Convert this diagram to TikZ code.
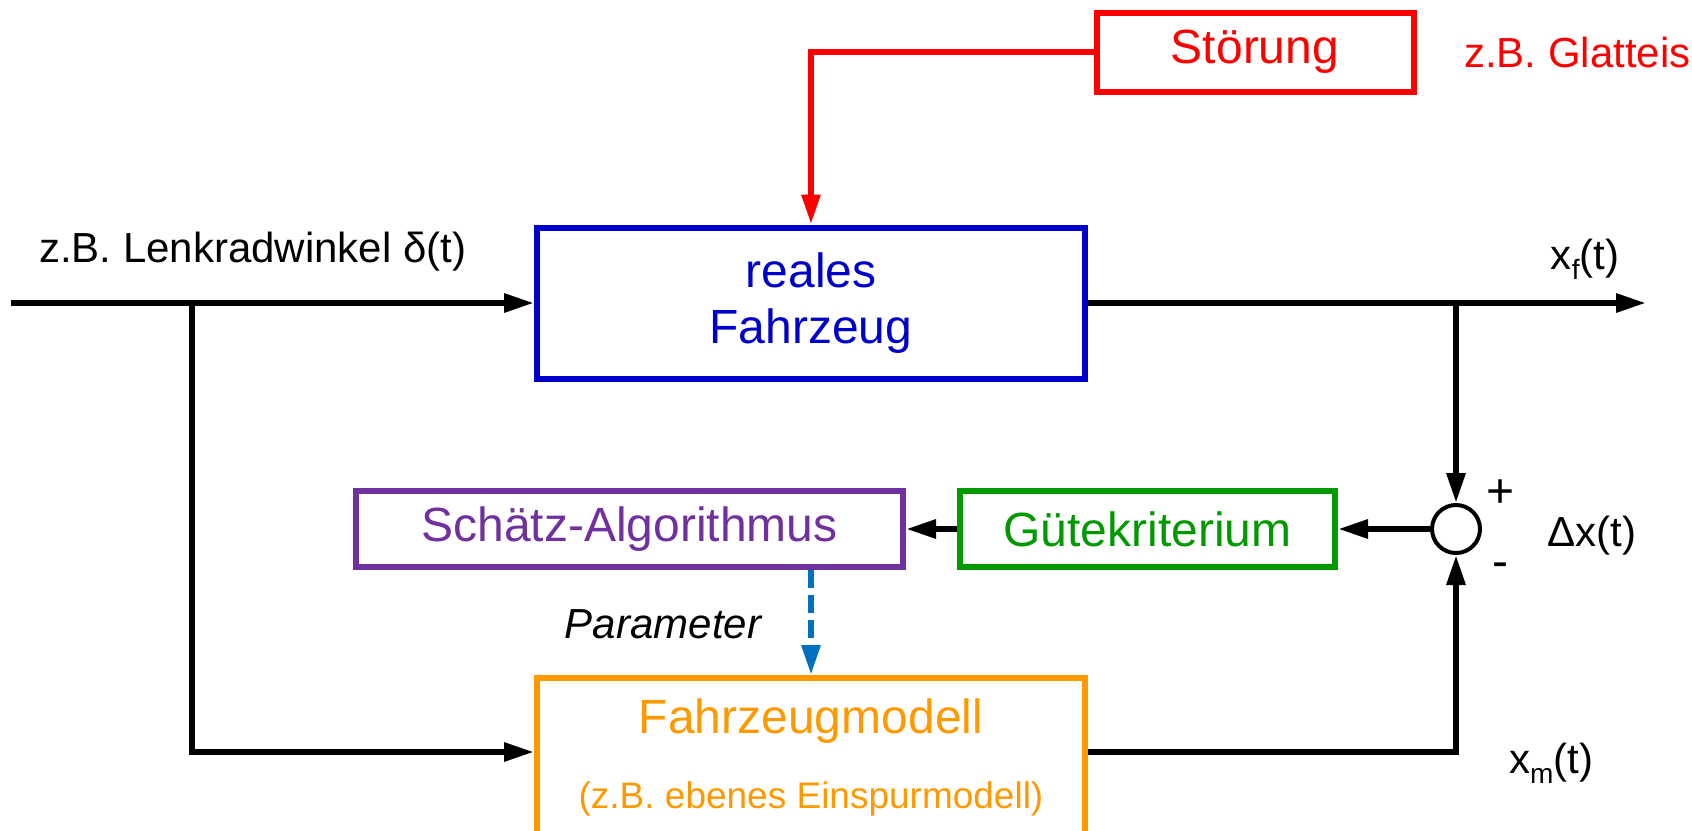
\documentclass[tikz,border=0pt]{standalone}
\usepackage{fontspec}
\setmainfont{Liberation Sans}
\usetikzlibrary{arrows.meta}
\definecolor{cred}{RGB}{255,0,0}
\definecolor{cblue}{RGB}{0,0,204}
\definecolor{cpurple}{RGB}{112,48,160}
\definecolor{cgreen}{RGB}{0,153,0}
\definecolor{corange}{RGB}{255,153,0}
\definecolor{cdash}{RGB}{0,112,192}
\begin{document}
\begin{tikzpicture}[x=0.5pt,y=-0.5pt,
  blk/.style={draw, line width=3pt, rectangle, inner sep=0pt, font=\fontsize{24}{28}\selectfont, align=center},
  conn/.style={line width=3pt},
  arr/.style={-{Triangle[length=15pt,width=9pt]}},
  lbl/.style={font=\fontsize{21}{25}\selectfont},
]
\path[use as bounding box] (0,0) rectangle (1692,830);
\clip (0,0) rectangle (1692,830);

% blocks
\node[blk, draw=cred, text=cred, minimum width=158.5pt, minimum height=39.5pt] (stoer) at (1255,52) {Störung};
\node[lbl, text=cred, anchor=west] (glatt) at (1457,52) {z.B. Glatteis};
\node[blk, draw=cblue, text=cblue, minimum width=274pt, minimum height=75.5pt] (fz) at (811,303) {reales\\Fahrzeug};
\node[blk, draw=cgreen, text=cgreen, minimum width=187.5pt, minimum height=38pt] (gk) at (1147.5,529) {Gütekriterium};
\node[blk, draw=cpurple, text=cpurple, minimum width=273.5pt, minimum height=38pt] (sa) at (629.5,529) {Schätz-Algorithmus};
\node[blk, draw=corange, minimum width=274pt, minimum height=78pt] (fm) at (811,756) {};
\node[text=corange, font=\fontsize{24}{28}\selectfont] (fmt) at (811,721) {Fahrzeugmodell};
\node[text=corange, font=\fontsize{18.5}{22}\selectfont] (fms) at (811,799) {(z.B. ebenes Einspurmodell)};
\node[circle, draw, line width=2pt, minimum size=24pt, inner sep=0pt] (sum) at (1456,529) {};

% labels
\node[lbl, anchor=base west] (delta) at (32,262) {z.B. Lenkradwinkel δ(t)};
\node[lbl] (xf) at (1585,259) {x\raisebox{-0.45ex}{\fontsize{14}{14}\selectfont f}(t)};
\node[lbl] (xm) at (1551,763) {x\raisebox{-0.45ex}{\fontsize{14}{14}\selectfont m}(t)};
\node[lbl] (dx) at (1592,536) {Δx(t)};
\node[lbl, font=\fontsize{24}{28}\selectfont] (plus) at (1500,494) {+};
\node[lbl, font=\fontsize{24}{28}\selectfont] (minus) at (1500,570) {-};
\node[lbl, font=\fontsize{21}{25}\selectfont\itshape] (par) at (663,624) {Parameter};

% coordinates
\coordinate (in) at (11,303);
\coordinate (j1) at (192,303);
\coordinate (out) at (1646,303);
\coordinate (j2) at (1456,303);
\coordinate (pd) at (fz.south |- sa.south);

% connectors
\draw[conn, cred, arr] (stoer.west) -| (fz.north);
\draw[conn, arr] (in) -- (fz.west);
\draw[conn, arr] (j1) |- ([yshift=2pt]fm.west);
\draw[conn, arr] (fz.east) -- (out);
\draw[conn, arr] (j2) -- (sum.north);
\draw[conn, arr] ([yshift=2pt]fm.east) -| (sum.south);
\draw[conn, arr] (sum.west) -- (gk.east);
\draw[conn, arr] (gk.west) -- (sa.east);
\draw[cdash, line width=3pt, dash pattern=on 9pt off 3.5pt, arr] (pd) -- (fm.north);
\end{tikzpicture}
\end{document}
